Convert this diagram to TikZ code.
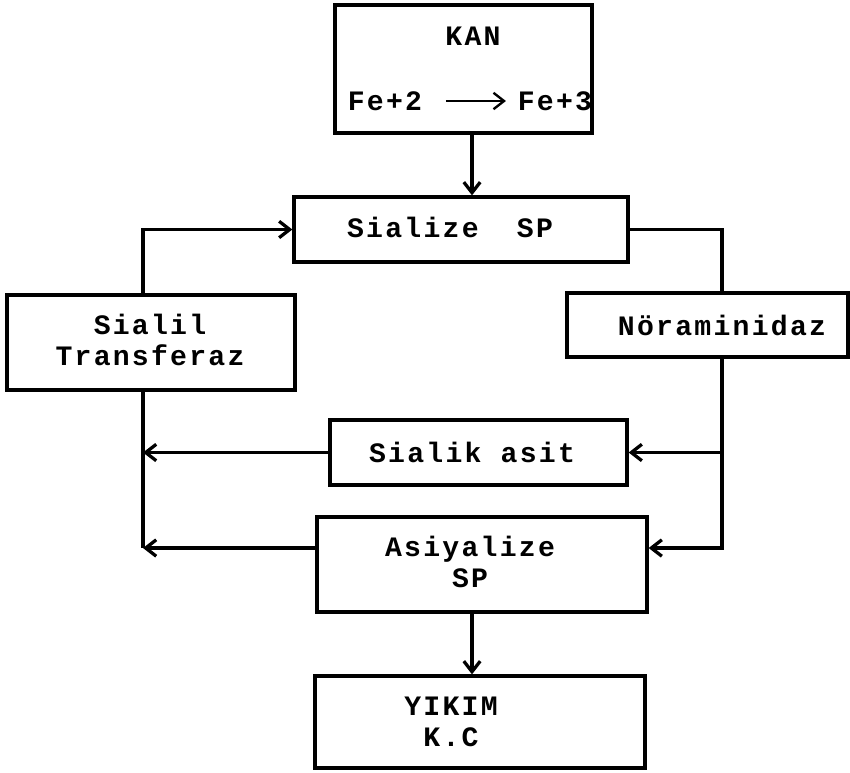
\documentclass[tikz,border=0pt]{standalone}
\usepackage{fontspec}
\usetikzlibrary{arrows.meta}
\newfontfamily\chartFont{Liberation Mono}[LetterSpace=8]
\def\px{0.03cm}
\tikzset{
	box/.style={draw=black, line width=2.8pt, inner sep=0pt},
	txt/.style={font={\chartFont\bfseries\fontsize{24}{26}\selectfont}, align=center, inner sep=0pt},
	wire/.style={line width=2.8pt},
	link/.style={wire, -{Straight Barb[length=9pt,width=14pt]}},
}

\begin{document}
\begin{tikzpicture}[x=0.03cm, y=-0.03cm]
			\useasboundingbox (0,0) rectangle (850,772);
			% frames
			\node[box, minimum width=257*\px, minimum height=128*\px] (kan) at (463.5,69) {};
			\node[box, minimum width=334*\px, minimum height=65*\px] (sialize) at (461,229.5) {};
			\node[box, minimum width=288*\px, minimum height=95*\px] (sialil) at (151,342.5) {};
			\node[box, minimum width=281*\px, minimum height=64*\px] (noram) at (707.5,325) {};
			\node[box, minimum width=297*\px, minimum height=65*\px] (sialik) at (478.5,452.5) {};
			\node[box, minimum width=330*\px, minimum height=95*\px] (asiy) at (482,564.5) {};
			\node[box, minimum width=330*\px, minimum height=92*\px] (yikim) at (480,722) {};
			% texts
			\node[txt] (kanTxt) at (473,36) {KAN};
			\node[txt] (fe2) at (385,101) {Fe+2};
			\node[txt] (fe3) at (555,101) {Fe+3};
			\node[txt] (sializeTxt) at (450,227) {Sialize\ \ SP};
			\node[txt] (sialilTxt) at (150,340) {Sialil\\Transferaz};
			\node[txt] (noramTxt) at (722,325) {Nöraminidaz};
			\node[txt] (sialikTxt) at (472,452) {Sialik asit};
			\node[txt] (asiyTxt) at (470,562) {Asiyalize\\SP};
			\node[txt] (yikimTxt) at (451,722) {YIKIM\\K.C};
			% buses
			\coordinate (spine) at (472,0);
			\coordinate (leftBus) at (143,0);
			\coordinate (rightBus) at (722,0);
			\coordinate (lowBus) at (0,548);
			% connectors
			\draw[link, line width=2pt, shorten <=20pt, shorten >=10pt] (fe2) -- (fe3);
			\draw[link] (kan.south -| spine) -- (sialize.north -| spine);
			\draw[link] (sialil.north -| leftBus) |- (sialize.west);
			\draw[wire] (sialize.east) -| (noram.north -| rightBus);
			\draw[link] (noram.south -| rightBus) |- (sialik.east);
			\draw[link] (noram.south -| rightBus) |- (asiy.east |- lowBus);
			\draw[link] (sialik.west) -- (sialik.west -| leftBus);
			\draw[link] (asiy.west |- lowBus) -- (lowBus -| leftBus);
			\draw[wire] (sialil.south -| leftBus) -- (lowBus -| leftBus);
			\draw[link] (asiy.south -| spine) -- (yikim.north -| spine);
		\end{tikzpicture}
\end{document}
